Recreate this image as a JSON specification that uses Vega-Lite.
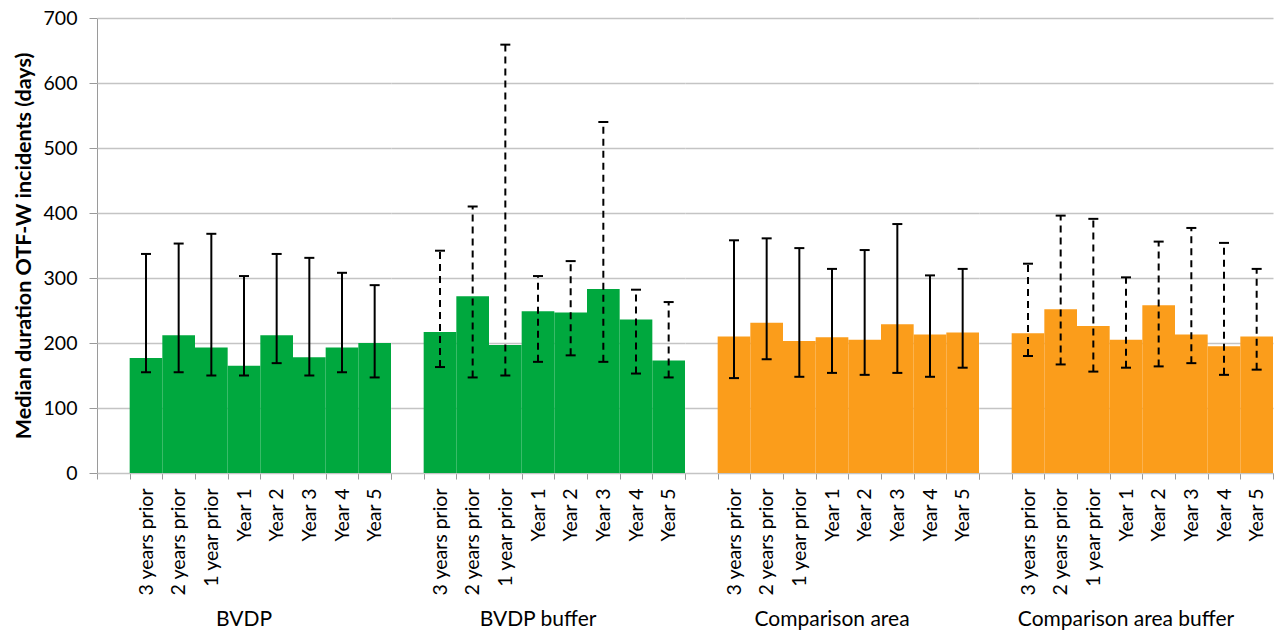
{
  "$schema": "https://vega.github.io/schema/vega-lite/v6.json",
  "padding": {"left": 13, "top": 8, "right": 0, "bottom": 0},
  "background": "white",
  "config": {
    "font": "Lato",
    "view": {"stroke": null},
    "axis": {"labelFont": "Lato", "titleFont": "Lato", "labelColor": "#000", "titleColor": "#000"}
  },
  "data": {"values": [
    {"group": "BVDP", "period": "3 years prior", "value": 177, "lo": 155, "hi": 337},
    {"group": "BVDP", "period": "2 years prior", "value": 212, "lo": 155, "hi": 353},
    {"group": "BVDP", "period": "1 year prior", "value": 193, "lo": 150, "hi": 368},
    {"group": "BVDP", "period": "Year 1", "value": 165, "lo": 150, "hi": 303},
    {"group": "BVDP", "period": "Year 2", "value": 212, "lo": 169, "hi": 337},
    {"group": "BVDP", "period": "Year 3", "value": 178, "lo": 150, "hi": 331},
    {"group": "BVDP", "period": "Year 4", "value": 193, "lo": 155, "hi": 308},
    {"group": "BVDP", "period": "Year 5", "value": 200, "lo": 147, "hi": 289},
    {"group": "BVDP  buffer", "period": "3 years prior", "value": 217, "lo": 163, "hi": 342},
    {"group": "BVDP  buffer", "period": "2 years prior", "value": 272, "lo": 147, "hi": 410},
    {"group": "BVDP  buffer", "period": "1 year prior", "value": 197, "lo": 150, "hi": 659},
    {"group": "BVDP  buffer", "period": "Year 1", "value": 249, "lo": 171, "hi": 303},
    {"group": "BVDP  buffer", "period": "Year 2", "value": 247, "lo": 181, "hi": 326},
    {"group": "BVDP  buffer", "period": "Year 3", "value": 283, "lo": 171, "hi": 540},
    {"group": "BVDP  buffer", "period": "Year 4", "value": 236, "lo": 153, "hi": 282},
    {"group": "BVDP  buffer", "period": "Year 5", "value": 173, "lo": 147, "hi": 263},
    {"group": "Comparison area", "period": "3 years prior", "value": 210, "lo": 146, "hi": 358},
    {"group": "Comparison area", "period": "2 years prior", "value": 231, "lo": 175, "hi": 361},
    {"group": "Comparison area", "period": "1 year prior", "value": 203, "lo": 148, "hi": 346},
    {"group": "Comparison area", "period": "Year 1", "value": 209, "lo": 154, "hi": 314},
    {"group": "Comparison area", "period": "Year 2", "value": 205, "lo": 151, "hi": 343},
    {"group": "Comparison area", "period": "Year 3", "value": 229, "lo": 154, "hi": 383},
    {"group": "Comparison area", "period": "Year 4", "value": 213, "lo": 148, "hi": 304},
    {"group": "Comparison area", "period": "Year 5", "value": 216, "lo": 162, "hi": 314},
    {"group": "Comparison area buffer", "period": "3 years prior", "value": 215, "lo": 180, "hi": 322},
    {"group": "Comparison area buffer", "period": "2 years prior", "value": 252, "lo": 167, "hi": 396},
    {"group": "Comparison area buffer", "period": "1 year prior", "value": 226, "lo": 156, "hi": 391},
    {"group": "Comparison area buffer", "period": "Year 1", "value": 205, "lo": 162, "hi": 301},
    {"group": "Comparison area buffer", "period": "Year 2", "value": 258, "lo": 164, "hi": 356},
    {"group": "Comparison area buffer", "period": "Year 3", "value": 213, "lo": 169, "hi": 377},
    {"group": "Comparison area buffer", "period": "Year 4", "value": 195, "lo": 151, "hi": 354},
    {"group": "Comparison area buffer", "period": "Year 5", "value": 210, "lo": 159, "hi": 314}
  ]},
  "facet": {
    "column": {
      "field": "group", "type": "nominal",
      "sort": ["BVDP", "BVDP  buffer", "Comparison area", "Comparison area buffer"],
      "header": {"title": null, "labelOrient": "bottom", "labelFontSize": 21, "labelFont": "Lato", "labelColor": "#000", "labelPadding": 14}
    }
  },
  "spacing": 0,
  "spec": {
    "width": 294,
    "height": 455,
    "encoding": {
      "x": {
        "field": "period", "type": "ordinal",
        "scale": {"domain": ["", "3 years prior", "2 years prior", "1 year prior", "Year 1", "Year 2", "Year 3", "Year 4", "Year 5"], "paddingInner": 0, "paddingOuter": 0},
        "axis": {"title": null, "labelAngle": 270, "tickBand": "extent", "grid": false, "domainColor": "#9a9a9a", "tickColor": "#9a9a9a", "tickSize": 6, "labelFontSize": 19.5, "labelPadding": 9}
      }
    },
    "layer": [
      {
        "mark": {"type": "bar"},
        "encoding": {
          "y": {
            "field": "value", "type": "quantitative",
            "scale": {"domain": [0, 700], "nice": false},
            "axis": {"values": [0, 100, 200, 300, 400, 500, 600, 700], "title": "Median duration OTF-W incidents (days)", "titleFontSize": 21.5, "titleFontWeight": "bold", "titlePadding": 8, "labelFontSize": 19.5, "labelPadding": 12, "tickSize": 8, "tickColor": "#9a9a9a", "domainColor": "#9a9a9a", "gridColor": "#c4c4c4", "gridWidth": 1.5}
          },
          "color": {"field": "group", "type": "nominal", "legend": null,
            "scale": {"domain": ["BVDP", "BVDP  buffer", "Comparison area", "Comparison area buffer"], "range": ["#00A83E", "#00A83E", "#FB9D1B", "#FB9D1B"]}},
          "opacity": {"field": "period", "type": "nominal", "legend": null,
            "scale": {"domain": ["3 years prior", "2 years prior", "1 year prior", "Year 1", "Year 2", "Year 3", "Year 4", "Year 5"], "range": [1, 1, 1, 0.95, 0.9, 0.85, 0.8, 0.6]}}
        }
      },
      {
        "mark": {"type": "rule", "color": "#000", "strokeWidth": 2},
        "encoding": {
          "y": {"field": "lo", "type": "quantitative"},
          "y2": {"field": "hi"},
          "strokeDash": {"field": "group", "type": "nominal", "legend": null,
            "scale": {"domain": ["BVDP", "BVDP  buffer", "Comparison area", "Comparison area buffer"], "range": [[1, 0], [7, 5], [1, 0], [7, 5]]}}
        }
      },
      {
        "mark": {"type": "tick", "color": "#000", "size": 10, "thickness": 2, "opacity": 1},
        "encoding": {"y": {"field": "lo", "type": "quantitative"}}
      },
      {
        "mark": {"type": "tick", "color": "#000", "size": 10, "thickness": 2, "opacity": 1},
        "encoding": {"y": {"field": "hi", "type": "quantitative"}}
      }
    ]
  }
}
